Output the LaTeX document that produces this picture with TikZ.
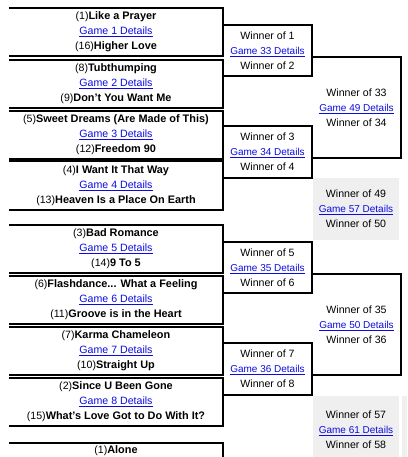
\documentclass[tikz,border=0pt]{standalone}
\usepackage{fontspec}
\setmainfont{Liberation Sans}
\definecolor{linkblue}{RGB}{10,10,225}
\definecolor{boxgray}{RGB}{239,239,239}
\newcommand\gl[2][10]{{\fontsize{#1}{15}\selectfont\color{linkblue}\underline{#2}}}
\newcommand\tm[2]{{\fontsize{10.6}{15}\selectfont(#1)}{\fontsize{10.9}{15}\selectfont\bfseries #2}}
\newcommand\wn[1]{{\fontsize{10.6}{15}\selectfont Winner of #1}}
\newcommand\frameit[1]{\draw[frame] (#1.north west) -- (#1.north east) -- (#1.south east) -- (#1.south west);}
\tikzset{
  frame/.style={line width=2pt, line join=miter, black},
  base/.style={inner sep=0pt, align=center, font=\fontsize{10.6}{15}\selectfont},
  r1/.style={base, minimum width=214pt, minimum height=48.5pt},
  r2/.style={base, minimum width=89pt, minimum height=51pt},
  r3/.style={base, minimum width=89pt, minimum height=101pt},
  gbox/.style={base, fill=boxgray, minimum width=86pt},
}
\begin{document}
\begin{tikzpicture}[x=1pt, y=-1pt]
\path[use as bounding box] (0,0) rectangle (407,457);
\clip (0,0) rectangle (407,457);
% gray boxes
\node[gbox, minimum height=62pt] (g57) at (356,209) {\wn{49}\\ \gl{Game 57 Details}\\ \wn{50}};
\node[gbox, minimum height=68pt] (g61) at (356,430) {\wn{57}\\ \gl{Game 61 Details}\\ \wn{58}};
\node[gbox, minimum height=68pt, minimum width=88pt] (g63) at (446,430) {};
% round 1
\node[r1] (m1) at (116,32) {\tm{1}{Like a Prayer}\\ \gl[10.6]{Game 1 Details}\\ \tm{16}{Higher Love}};
\node[r1] (m2) at (116,84) {\tm{8}{Tubthumping}\\ \gl[10.6]{Game 2 Details}\\ \tm{9}{Don't You Want Me}};
\node[r1] (m3) at (116,135) {\tm{5}{Sweet Dreams (Are Made of This)}\\ \gl[10.6]{Game 3 Details}\\ \tm{12}{Freedom 90}};
\node[r1] (m4) at (116,185.5) {\tm{4}{I Want It That Way}\\ \gl[10.6]{Game 4 Details}\\ \tm{13}{Heaven Is a Place On Earth}};
\node[r1] (m5) at (116,249) {\tm{3}{Bad Romance}\\ \gl[10.6]{Game 5 Details}\\ \tm{14}{9 To 5}};
\node[r1] (m6) at (116,300) {\tm{6}{Flashdance... What a Feeling}\\ \gl[10.6]{Game 6 Details}\\ \tm{11}{Groove is in the Heart}};
\node[r1] (m7) at (116,351) {\tm{7}{Karma Chameleon}\\ \gl[10.6]{Game 7 Details}\\ \tm{10}{Straight Up}};
\node[r1] (m8) at (116,402) {\tm{2}{Since U Been Gone}\\ \gl[10.6]{Game 8 Details}\\ \tm{15}{What's Love Got to Do With It?}};
\node[r1] (m9) at (116,467) {};
\node[base] (t9) at (116,451) {\tm{1}{Alone}};
% round 2
\node[r2] (m33) at (267.5,50.5) {\wn{1}\\ \gl{Game 33 Details}\\ \wn{2}};
\node[r2] (m34) at (267.5,152) {\wn{3}\\ \gl{Game 34 Details}\\ \wn{4}};
\node[r2] (m35) at (267.5,267.5) {\wn{5}\\ \gl{Game 35 Details}\\ \wn{6}};
\node[r2] (m36) at (267.5,369) {\wn{7}\\ \gl{Game 36 Details}\\ \wn{8}};
% round 3
\node[r3] (m49) at (356.5,107.5) {\wn{33}\\ \gl{Game 49 Details}\\ \wn{34}};
\node[r3] (m50) at (356.5,324.5) {\wn{35}\\ \gl{Game 50 Details}\\ \wn{36}};
% frames
\frameit{m1}\frameit{m2}\frameit{m3}\frameit{m4}
\frameit{m5}\frameit{m6}\frameit{m7}\frameit{m8}\frameit{m9}
\frameit{m33}\frameit{m34}\frameit{m35}\frameit{m36}
\frameit{m49}\frameit{m50}
\end{tikzpicture}
\end{document}
